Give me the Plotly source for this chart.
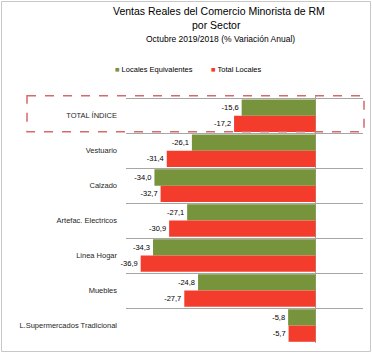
import plotly.graph_objects as go

categories = ["TOTAL ÍNDICE", "Vestuario", "Calzado", "Artefac. Electricos",
              "Linea Hogar", "Muebles", "L.Supermercados Tradicional"]
locales_equivalentes = [-15.6, -26.1, -34.0, -27.1, -34.3, -24.8, -5.8]
total_locales = [-17.2, -31.4, -32.7, -30.9, -36.9, -27.7, -5.7]
series_names = ["Locales Equivalentes", "Total Locales"]

green = "#77933C"
red = "#F43C2C"
font_family = "Liberation Sans"

T, B, L, R = 95, 10, 126, 9
PH = 353 - T - B
PW = 372 - L - R


def px_x(px):
    return (px - L) / PW


def px_y(py):
    return 1 + (T - py) / PH


fig = go.Figure()
for vals, name, col in [(locales_equivalentes, series_names[0], green),
                        (total_locales, series_names[1], red)]:
    fig.add_trace(go.Bar(
        y=categories, x=vals, orientation="h",
        name=name, marker=dict(color=col, line=dict(width=0)),
        texttemplate="%{x:.1f}", textposition="outside", cliponaxis=False,
        textfont=dict(size=7.5, color="#000000", family=font_family),
        showlegend=False,
    ))

annotations = [
    dict(text="Ventas Reales del Comercio Minorista de RM", x=px_x(219), y=px_y(11),
         font=dict(size=10.5, color="#000000", family=font_family)),
    dict(text="por Sector", x=px_x(216), y=px_y(25),
         font=dict(size=10.5, color="#000000", family=font_family)),
    dict(text="Octubre 2019/2018 (% Variación Anual)", x=px_x(220), y=px_y(39),
         font=dict(size=8.5, color="#000000", family=font_family)),
    dict(text=f"<span style='color:{green}'>■</span> {series_names[0]}",
         x=px_x(113), y=px_y(69), xanchor="left",
         font=dict(size=7.5, color="#000000", family=font_family)),
    dict(text=f"<span style='color:{red}'>■</span> {series_names[1]}",
         x=px_x(209), y=px_y(69), xanchor="left",
         font=dict(size=7.5, color="#000000", family=font_family)),
]
for a in annotations:
    a.update(xref="paper", yref="paper", showarrow=False, yanchor="middle")
    a.setdefault("xanchor", "center")

fig.update_layout(
    width=372, height=353,
    margin=dict(l=L, r=R, t=T, b=B),
    paper_bgcolor="white", plot_bgcolor="white",
    separators=",.",
    barmode="group", bargap=0.07, bargroupgap=0,
    font=dict(family=font_family, color="#262626"),
    showlegend=False,
    annotations=annotations,
    shapes=[
        dict(type="rect", xref="paper", yref="y",
             x0=px_x(27), x1=px_x(364), y0=-0.57, y1=0.46,
             line=dict(color="#D46A6A", width=1.5, dash="dash"),
             fillcolor="rgba(0,0,0,0)"),
        dict(type="rect", xref="paper", yref="paper",
             x0=px_x(1.5), x1=px_x(370.5), y0=px_y(351.5), y1=px_y(1.5),
             line=dict(color="#C8C8C8", width=1), fillcolor="rgba(0,0,0,0)",
             layer="below"),
    ],
)

fig.update_xaxes(
    range=[-40, 10], showgrid=False, showticklabels=False, ticks="",
    zeroline=True, zerolinecolor="#A6A6A6", zerolinewidth=1, fixedrange=True,
)
fig.update_yaxes(
    autorange="reversed", type="category", tickson="boundaries",
    showgrid=True, gridcolor="#A6A6A6", gridwidth=1, ticks="",
    ticklabelstandoff=8,
    tickfont=dict(size=7.5, color="#262626", family=font_family),
    showline=False,
)

fig.write_html("out.html")
